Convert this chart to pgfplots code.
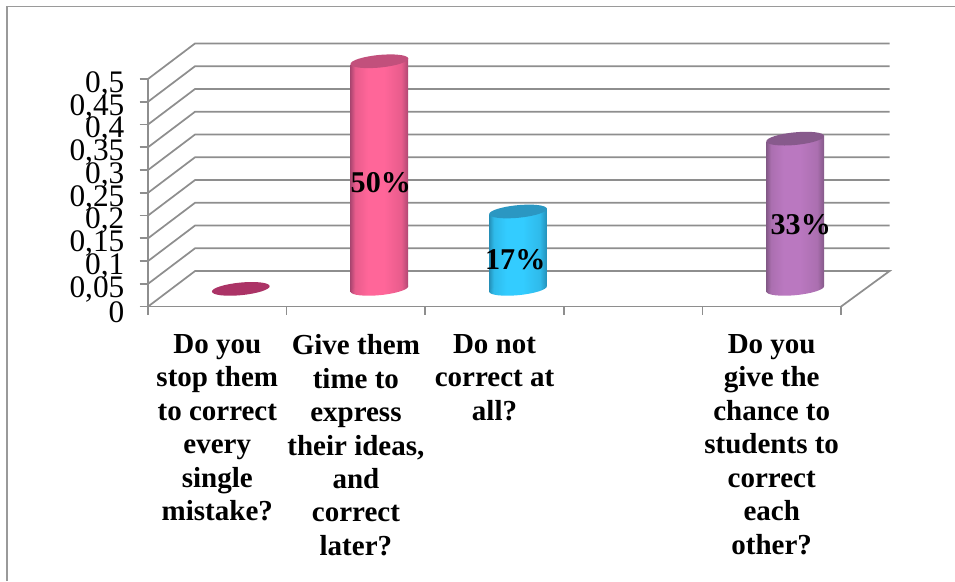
\documentclass[border=0pt]{standalone}
\usepackage{fontspec}
\setmainfont{Liberation Serif}
\usepackage{pgfplots}
\usepackage{pgfplotstable}
\pgfplotsset{compat=1.18}
\usetikzlibrary{shapes.geometric}
\definecolor{gridc}{HTML}{8E8E8E}
\definecolor{borderc}{HTML}{9A9A9A}
\definecolor{pinkE}{HTML}{AE4772}\definecolor{pinkM}{HTML}{E85C8C}\definecolor{pinkC}{HTML}{FF6699}\definecolor{pinkT}{HTML}{C2507C}
\definecolor{cyanE}{HTML}{2490B8}\definecolor{cyanM}{HTML}{2FBAEA}\definecolor{cyanC}{HTML}{33CCFF}\definecolor{cyanT}{HTML}{2B97C2}
\definecolor{purpE}{HTML}{845A88}\definecolor{purpM}{HTML}{AB6FB0}\definecolor{purpC}{HTML}{BA78C0}\definecolor{purpT}{HTML}{875A8C}
\definecolor{zeroT}{HTML}{AB3366}
\newcommand\cyl[4]{\pgfdeclarehorizontalshading{#1}{100bp}{color(0bp)=(#2);color(25bp)=(#2);color(29bp)=(#3);color(40bp)=(#4);color(54bp)=(#4);color(69bp)=(#3);color(75bp)=(#2);color(100bp)=(#2)}}
\cyl{pinkS}{pinkE}{pinkM}{pinkC}
\cyl{cyanS}{cyanE}{cyanM}{cyanC}
\cyl{purpS}{purpE}{purpM}{purpC}
\pgfplotstableread{
x v
1 0.50
}\tpink
\pgfplotstableread{
x v
2 0.17
}\tcyan
\pgfplotstableread{
x v
4 0.33
}\tpurp
\pgfplotstableread{
x v
0 0.00
}\tzero
\tikzset{
  cylcap/.style={ellipse,inner sep=0pt,minimum width=43.5pt,minimum height=9.45pt,rotate=5.5,draw=none},
}
\pgfplotsset{
  depth/.style={xshift=17.63pt,yshift=13.3pt},
  capplot/.style={depth,draw=none,mark=none,forget plot,point meta=y,
    nodes near coords={},nodes near coords align={anchor=center},
    every node near coord/.append style={cylcap,#1}},
  grid line/.style={gridc,line width=1.3pt,mark=none,forget plot},
}
\begin{document}
\begin{tikzpicture}
\path[use as bounding box] (-111pt,-205.8pt) rectangle (605.25pt,229.95pt);
\draw[borderc,line width=1.1pt] (-105.75pt,-205.8pt) -- (-105.75pt,225.1pt) -- (605.25pt,225.1pt);
\begin{axis}[
  scale only axis,width=519.75pt,height=170.7pt,
  xmin=-0.5,xmax=4.5,ymin=0,ymax=0.5,clip=false,
  axis x line*=bottom,axis y line*=left,
  axis line style={gridc,line width=1.3pt,-},
  tick style={gridc,line width=1.3pt},
  tick align=outside,major tick length=6.2pt,
  xtick={-0.5,0.5,1.5,2.5,3.5,4.5},
  x tick label as interval,
  xticklabels={{Do you\\stop them\\to correct\\every\\single\\mistake?},
    {Give them\\time to\\express\\their ideas,\\and\\correct\\later?},
    {Do not\\correct at\\all?},{},
    {Do you\\give the\\chance to\\students to\\correct\\each\\other?}},
  x tick label style={align=center,anchor=north,yshift=-11.2pt,
    font=\fontsize{21.75}{25.1}\selectfont\bfseries},
  ytick={0,0.05,0.1,0.15,0.2,0.25,0.3,0.35,0.4,0.45,0.5},
  scaled y ticks=false,
  /pgf/number format/use comma,
  /pgf/number format/fixed,
  /pgf/number format/precision=2,
  /pgf/number format/assume math mode=true,
  y tick label style={font=\fontsize{23.5}{23.5}\selectfont,anchor=east,xshift=-8pt,yshift=-4pt},
]
% walls and floor
\addplot[grid line] coordinates {(-0.5,0)(-0.161,0.078)(4.85,0.078)(4.5,0)};
\addplot[grid line] coordinates {(-0.5,0.05)(-0.161,0.128)(4.85,0.128)};
\addplot[grid line] coordinates {(-0.5,0.10)(-0.161,0.178)(4.85,0.178)};
\addplot[grid line] coordinates {(-0.5,0.15)(-0.161,0.228)(4.85,0.228)};
\addplot[grid line] coordinates {(-0.5,0.20)(-0.161,0.278)(4.85,0.278)};
\addplot[grid line] coordinates {(-0.5,0.25)(-0.161,0.328)(4.85,0.328)};
\addplot[grid line] coordinates {(-0.5,0.30)(-0.161,0.378)(4.85,0.378)};
\addplot[grid line] coordinates {(-0.5,0.35)(-0.161,0.428)(4.85,0.428)};
\addplot[grid line] coordinates {(-0.5,0.40)(-0.161,0.478)(4.85,0.478)};
\addplot[grid line] coordinates {(-0.5,0.45)(-0.161,0.528)(4.85,0.528)};
\addplot[grid line] coordinates {(-0.5,0.50)(-0.161,0.578)(4.85,0.578)};
% zero value
\addplot[capplot={fill=zeroT}] table[x=x,y=v] {\tzero};
% 50 %
\addplot[capplot={shade,shading=pinkS}] table[x=x,y expr=0*\thisrow{v}] {\tpink};
\addplot[depth,draw=none,mark=none,forget plot,shade,shading=pinkS] coordinates {(0.792,-0.0066)(0.792,0.4934)(1.208,0.5066)(1.208,0.0066)} --cycle;
\addplot[capplot={fill=pinkT}] table[x=x,y=v] {\tpink};
% 17 %
\addplot[capplot={shade,shading=cyanS}] table[x=x,y expr=0*\thisrow{v}] {\tcyan};
\addplot[depth,draw=none,mark=none,forget plot,shade,shading=cyanS] coordinates {(1.792,-0.0066)(1.792,0.1634)(2.208,0.1766)(2.208,0.0066)} --cycle;
\addplot[capplot={fill=cyanT}] table[x=x,y=v] {\tcyan};
% 33 %
\addplot[capplot={shade,shading=purpS}] table[x=x,y expr=0*\thisrow{v}] {\tpurp};
\addplot[depth,draw=none,mark=none,forget plot,shade,shading=purpS] coordinates {(3.792,-0.0066)(3.792,0.3234)(4.208,0.3366)(4.208,0.0066)} --cycle;
\addplot[capplot={fill=purpT}] table[x=x,y=v] {\tpurp};
% data labels
\addplot[draw=none,mark=none,forget plot,point meta=explicit symbolic,
  nodes near coords,nodes near coords align={anchor=center},
  every node near coord/.append style={inner sep=0pt,text=black,
    font=\fontsize{22.6}{25}\selectfont\bfseries}]
  coordinates {(1.18,0.2725)[50\%] (2.15,0.103)[17\%] (4.21,0.181)[33\%]};
\end{axis}
\end{tikzpicture}
\end{document}
